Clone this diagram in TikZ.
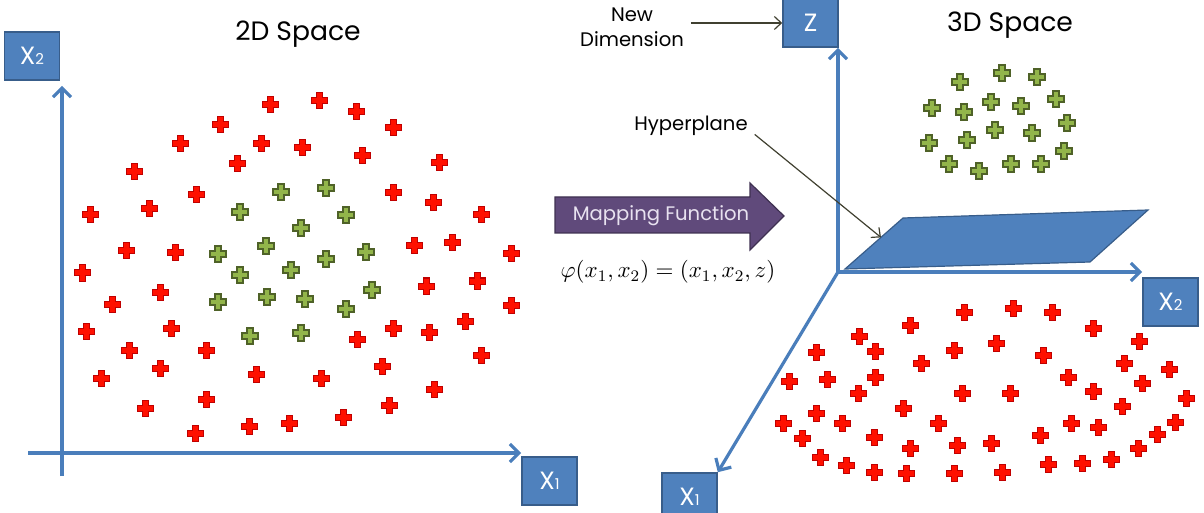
\RequirePackage{fix-cm}
\documentclass[tikz,border=0pt]{standalone}
\usepackage{fontspec}
\setmainfont{Poppins}
\usepackage{xcolor}
\usepackage{tikz}
\usetikzlibrary{arrows.meta,positioning,calc}

\definecolor{axisblue}{RGB}{74,126,187}
\definecolor{boxblue}{RGB}{79,129,189}
\definecolor{boxline}{RGB}{56,93,138}
\definecolor{ptred}{RGB}{255,16,0}
\definecolor{ptredline}{RGB}{192,0,0}
\definecolor{ptgreen}{RGB}{146,181,74}
\definecolor{ptgreenline}{RGB}{79,98,40}
\definecolor{mapviolet}{RGB}{96,74,123}
\definecolor{mapline}{RGB}{63,49,81}
\definecolor{maptext}{RGB}{232,226,240}
\definecolor{pointergray}{RGB}{64,64,48}

\newcommand{\axlabel}[2]{#1{\fontsize{7.5}{8}\selectfont #2}}

\begin{document}
\begin{tikzpicture}[x=0.5pt,y=-0.5pt,every node/.style={font=\fontsize{9.8}{12.5}\selectfont},
  axis/.style={draw=axisblue,line width=1.6pt,-{Straight Barb[length=4.5pt,width=9pt]}},
  axbox/.style={draw=boxline,line width=0.8pt,fill=boxblue,text=white,minimum width=27.5pt,minimum height=24pt,inner sep=0pt,font=\fontsize{12.5}{14}\selectfont},
  callout/.style={draw=pointergray,line width=0.6pt,-{Straight Barb[length=3.5pt,width=6.5pt]}},
  title/.style={font=\fontsize{13.3}{15}\selectfont},
  redpt/.style={fill=ptred,draw=ptredline,line width=0.5pt},
  greenpt/.style={fill=ptgreen,draw=ptgreenline,line width=0.6pt},
  pics/cross/.style={code={\draw[#1] (-3,-8) -- (3,-8) -- (3,-3) -- (8,-3) -- (8,3) -- (3,3) -- (3,8) -- (-3,8) -- (-3,3) -- (-8,3) -- (-8,-3) -- (-3,-3) -- cycle;}}]
  \useasboundingbox (0,0) rectangle (1204,513);

  % 2D space
  \node[title] (t2d) at (298,34) {2D Space};
  \node[axbox] (x2a) at (32,56) {\axlabel{X}{2}};
  \node[axbox] (x1a) at (549.5,481) {\axlabel{X}{1}};
  \coordinate (ybot) at (62,476);
  \coordinate (xleft) at (28,453);
  \draw[axis,shorten >=2.5pt] (ybot) -- (ybot |- x2a.south);
  \draw[axis] (xleft) -- (xleft -| x1a.west);
  \foreach \x/\y in {270/105,319/101,356/112,393/128,220/125,180/144,261/144,302/148,
    362/156,439/163,237/164,134/172,196/195,149/209,90/215,393/193,433/203,481/215,
    414/246,452/243,511/254,126/251,175/253,82/273,160/292,112/304,86/331,171/328,
    129/350,206/350,160/368,101/378,256/374,321/378,382/366,393/328,429/332,465/321,
    357/339,426/286,477/281,511/305,481/355,434/389,389/405,343/417,289/423,249/426,
    195/433,145/408,206/399}
    \pic at (\x,\y) {cross=redpt};
  \foreach \x/\y in {281/192,326/188,240/212,346/215,301/228,218/254,266/246,326/259,
    366/252,240/275,291/270,218/302,267/297,305/299,346/309,372/290,250/336,301/333}
    \pic at (\x,\y) {cross=greenpt};

  % mapping
  \draw[fill=mapviolet,draw=mapline,line width=0.6pt] (555,197) -- (750,197) -- (750,183) -- (784,216)
    -- (750,250) -- (750,233) -- (555,233) -- cycle;
  \node[text=maptext,font=\fontsize{9.8}{12}\selectfont] (mapfn) at (661,216) {Mapping Function};
  \node[font=\fontsize{11.5}{14}\selectfont] (phi) at (668,272) {$\varphi(x_1,x_2)=(x_1,x_2,z)$};

  % 3D space
  \node[title] (t3d) at (1010,25) {3D Space};
  \coordinate (o3) at (838,272);
  \node[axbox] (zbox) at (810.5,23) {Z};
  \node[axbox] (x2b) at (1170.5,302) {\axlabel{X}{2}};
  \node[axbox] (x1b) at (689.5,497) {\axlabel{X}{1}};
  \draw[axis] (o3) -- (o3 |- zbox.south);
  \draw[axis] (o3) -- (o3 -| x2b.west);
  \draw[axis] (o3) -- (x1b.north east);
  % hyperplane
  \coordinate (pa) at (845,269);
  \coordinate (pb) at (903,218);
  \coordinate (pc) at (1148,210);
  \coordinate (pd) at (1090,262);
  \draw[fill=boxblue,draw=boxline,line width=0.6pt] (pa) -- (pb) -- (pc) -- (pd) -- cycle;
  \node (hyp) at (691,126) {Hyperplane};
  \draw[callout] ($(hyp.east)!0.5!(hyp.south east)$) -- ($(pa)!0.62!(pb)$);
  \node[align=center] (newdim) at (632,27) {New\\Dimension};
  \draw[callout] (newdim.east |- zbox.west) -- (zbox.west);
  \foreach \x/\y in {960/82,1002/73,1037/77,932/108,964/112,991/102,1021/106,1056/99,
    929/143,967/140,995/130,1032/133,1067/123,949/164,979/171,1011/164,1041/164,1064/151}
    \pic at (\x,\y) {cross=greenpt};
  \foreach \x/\y in {964/312,1013/308,1052/312,910/325,1093/328,859/336,875/351,816/352,
    954/350,996/343,1043/355,1139/341,921/363,1124/363,1169/369,789/381,827/379,875/377,
    858/393,1068/377,1142/383,962/393,1010/393,1093/391,1186/398,903/408,1122/406,816/413,
    783/423,842/423,938/423,1071/423,1098/427,1175/422,802/438,874/437,910/448,957/445,
    991/443,1040/435,1157/434,1138/448,820/457,846/465,874/472,906/473,954/473,1002/472,
    1048/464,1082/463,1111/459}
    \pic at (\x,\y) {cross=redpt};
\end{tikzpicture}
\end{document}
